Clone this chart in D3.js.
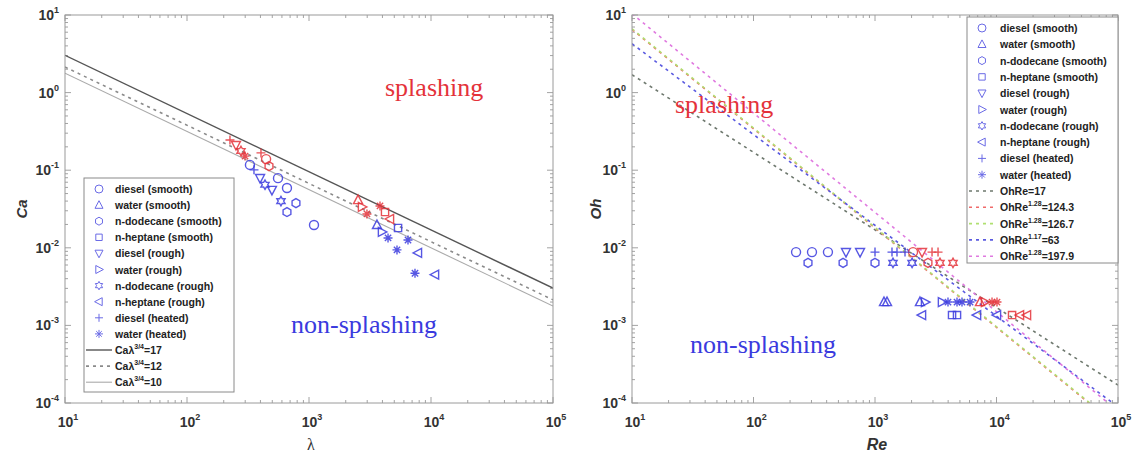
<!DOCTYPE html>
<html><head><meta charset="utf-8">
<script src="https://cdn.jsdelivr.net/npm/d3@7"></script>
<style>body{margin:0;background:#fff}svg{display:block}</style>
</head><body><svg id="c" width="1133" height="457"></svg>
<script>
// ---------------- DATA ----------------
const xTickExps = [1, 2, 3, 4, 5];
const yTickExps = [-4, -3, -2, -1, 0, 1];
const seriesNames = ["diesel (smooth)", "water (smooth)", "n-dodecane (smooth)", "n-heptane (smooth)",
  "diesel (rough)", "water (rough)", "n-dodecane (rough)", "n-heptane (rough)", "diesel (heated)", "water (heated)"];
const seriesMarkers = ["o", "^", "h", "s", "v", ">", "p", "<", "+", "*"];

// Left panel: [lambda, Ca, splash(1)/non-splash(0)]
const caDieselSmooth   = [[328, 0.117, 0], [557, 0.079, 0], [660, 0.059, 0], [1099, 0.0197, 0], [445, 0.139, 1]];
const caWaterSmooth    = [[3607, 0.0197, 0], [2523, 0.0413, 1]];
const caDodecaneSmooth = [[782, 0.0377, 0], [660, 0.0289, 0], [470, 0.113, 1]];
const caHeptaneSmooth  = [[5370, 0.018, 0], [4200, 0.0289, 1]];
const caDieselRough    = [[397, 0.079, 0], [497, 0.0556, 0], [252, 0.211, 1]];
const caWaterRough     = [[3963, 0.016, 0], [2718, 0.0336, 1]];
const caDodecaneRough  = [[589, 0.040, 0], [436, 0.065, 0], [277, 0.177, 1]];
const caHeptaneRough   = [[10790, 0.0045, 0], [7820, 0.0086, 0], [4613, 0.0235, 1]];
const caDieselHeated   = [[354, 0.101, 0], [225, 0.245, 1], [404, 0.167, 1]];
const caWaterHeated    = [[4444, 0.0134, 0], [6478, 0.0126, 0], [5263, 0.0094, 0], [7393, 0.0047, 0], [2986, 0.0273, 1], [3819, 0.0346, 1], [299, 0.152, 1]];

// Right panel: [Re, Oh, splash]
const ohDieselSmooth   = [[224, 0.0088, 0], [303, 0.0088, 0], [410, 0.0088, 0], [2056, 0.0088, 1]];
const ohWaterSmooth    = [[1186, 0.0020, 0], [1256, 0.0020, 0], [2344, 0.0020, 0], [7314, 0.0020, 1]];
const ohDodecaneSmooth = [[281, 0.0064, 0], [546, 0.0064, 0], [1000, 0.0064, 0], [2729, 0.0064, 1]];
const ohHeptaneSmooth  = [[4306, 0.00136, 0], [4732, 0.00136, 0], [13430, 0.00136, 1]];
const ohDieselRough    = [[577, 0.0088, 0], [753, 0.0088, 0], [2438, 0.0088, 1]];
const ohWaterRough     = [[2580, 0.0020, 0], [3556, 0.0020, 0], [8040, 0.0020, 1]];
const ohDodecaneRough  = [[1406, 0.0064, 0], [2019, 0.0064, 0], [3425, 0.0064, 1], [4385, 0.0064, 1]];
const ohHeptaneRough   = [[2438, 0.00136, 0], [6918, 0.00136, 0], [10095, 0.00136, 0], [15610, 0.00136, 1], [17830, 0.00136, 1]];
const ohDieselHeated   = [[1000, 0.0088, 0], [1380, 0.0088, 0], [1517, 0.0088, 0], [1766, 0.0088, 0], [2947, 0.0088, 1], [3302, 0.0088, 1]];
const ohWaterHeated    = [[3988, 0.0020, 0], [4732, 0.0020, 0], [5200, 0.0020, 0], [6056, 0.0020, 0], [9186, 0.0020, 1], [10095, 0.0020, 1]];

// Threshold lines: y = C * x^(-n)
const caLineLabels = ["17", "12", "10"];
const caLineC = [17, 12, 10];
const caLineN = [0.75, 0.75, 0.75];
const ohLineExpLabels = ["", "1.28", "1.28", "1.17", "1.28"];
const ohLineValLabels = ["17", "124.3", "126.7", "63", "197.9"];
const ohLineC = [17, 124.3, 126.7, 63, 197.9];
const ohLineN = [1, 1.28, 1.28, 1.17, 1.28];

// ---------------- STYLE / LAYOUT ----------------
const svg = d3.select("#c");
const BLUE = "#3a3ade", RED = "#e4323a";
const FONT = "'Liberation Sans', Arial, sans-serif";
const SERIF = "'Liberation Serif', 'Times New Roman', serif";
const caLineStyles = [{stroke: "#555", w: 1.4, dash: null}, {stroke: "#8a8a8a", w: 1.6, dash: "3,4"}, {stroke: "#aaa", w: 1.1, dash: null}];
const ohLineStyles = [{stroke: "#6e786e"}, {stroke: "#f06a6a"}, {stroke: "#b0e070"}, {stroke: "#5a5ae0"}, {stroke: "#e07ae0"}];

function symbolPath(t, s) {
  const r = s / 2;
  const poly = pts => "M" + pts.map(p => p[0].toFixed(2) + "," + p[1].toFixed(2)).join("L") + "Z";
  const reg = (n, rad, rot) => d3.range(n).map(i => { const a = rot + i * 2 * Math.PI / n; return [rad * Math.cos(a), rad * Math.sin(a)]; });
  switch (t) {
    case "o": return `M${r},0A${r},${r} 0 1,1 ${-r},0A${r},${r} 0 1,1 ${r},0Z`;
    case "^": return poly([[0, -r * 1.1], [r, r * 0.8], [-r, r * 0.8]]);
    case "v": return poly([[0, r * 1.1], [r, -r * 0.8], [-r, -r * 0.8]]);
    case ">": return poly([[r * 1.1, 0], [-r * 0.8, r], [-r * 0.8, -r]]);
    case "<": return poly([[-r * 1.1, 0], [r * 0.8, r], [r * 0.8, -r]]);
    case "s": return poly([[-r * 0.8, -r * 0.8], [r * 0.8, -r * 0.8], [r * 0.8, r * 0.8], [-r * 0.8, r * 0.8]]);
    case "h": return poly(reg(6, r, -Math.PI / 2));
    case "p": { const pts = []; for (let i = 0; i < 12; i++) { const a = -Math.PI / 2 + i * Math.PI / 6; const rr = i % 2 ? r * 0.6 : r * 1.05; pts.push([rr * Math.cos(a), rr * Math.sin(a)]); } return poly(pts); }
    case "+": return `M${-r},0H${r}M0,${-r}V${r}`;
    case "*": { const k = r * 0.7; return `M${-r},0H${r}M0,${-r}V${r}M${-k},${-k}L${k},${k}M${-k},${k}L${k},${-k}`; }
  }
}

function panel(cfg) {
  const x = d3.scaleLog().domain([1e1, 1e5]).range([cfg.x0, cfg.x1]);
  const y = d3.scaleLog().domain([1e-4, 1e1]).range([cfg.y1, cfg.y0]);
  const g = svg.append("g");
  const clipId = "clip" + cfg.id;
  svg.append("clipPath").attr("id", clipId).append("rect")
    .attr("x", cfg.x0).attr("y", cfg.y0).attr("width", cfg.x1 - cfg.x0).attr("height", cfg.y1 - cfg.y0);

  // ticks
  const tk = g.append("g").attr("stroke", "#8c8c8c").attr("stroke-width", 0.8);
  const xMinor = [], yMinor = [];
  for (let e = 1; e < 5; e++) for (let m = 2; m <= 9; m++) xMinor.push(m * Math.pow(10, e));
  for (let e = -4; e < 1; e++) for (let m = 2; m <= 9; m++) yMinor.push(m * Math.pow(10, e));
  xTickExps.forEach(e => { const px = x(Math.pow(10, e));
    tk.append("line").attr("x1", px).attr("x2", px).attr("y1", cfg.y1).attr("y2", cfg.y1 - 6);
    tk.append("line").attr("x1", px).attr("x2", px).attr("y1", cfg.y0).attr("y2", cfg.y0 + 6); });
  xMinor.forEach(v => { const px = x(v);
    tk.append("line").attr("x1", px).attr("x2", px).attr("y1", cfg.y1).attr("y2", cfg.y1 - 3);
    tk.append("line").attr("x1", px).attr("x2", px).attr("y1", cfg.y0).attr("y2", cfg.y0 + 3); });
  yTickExps.forEach(e => { const py = y(Math.pow(10, e));
    tk.append("line").attr("x1", cfg.x0).attr("x2", cfg.x0 + 6).attr("y1", py).attr("y2", py);
    tk.append("line").attr("x1", cfg.x1).attr("x2", cfg.x1 - 6).attr("y1", py).attr("y2", py); });
  yMinor.forEach(v => { const py = y(v);
    tk.append("line").attr("x1", cfg.x0).attr("x2", cfg.x0 + 3).attr("y1", py).attr("y2", py);
    tk.append("line").attr("x1", cfg.x1).attr("x2", cfg.x1 - 3).attr("y1", py).attr("y2", py); });

  // tick labels
  xTickExps.forEach(e => {
    const t = g.append("text").attr("x", x(Math.pow(10, e)) + 3).attr("y", cfg.y1 + 24)
      .attr("text-anchor", "middle").attr("font-family", FONT).attr("font-weight", "bold").attr("fill", "#333");
    t.append("tspan").attr("font-size", 14).text("10");
    t.append("tspan").attr("font-size", 9).attr("dy", -7).text(e);
  });
  yTickExps.forEach(e => {
    const t = g.append("text").attr("x", cfg.x0 - 6).attr("y", y(Math.pow(10, e)) + 5)
      .attr("text-anchor", "end").attr("font-family", FONT).attr("font-weight", "bold").attr("fill", "#333");
    t.append("tspan").attr("font-size", 14).text("10");
    t.append("tspan").attr("font-size", 9).attr("dy", -7).text(e);
  });

  // threshold lines
  const lg = g.append("g").attr("clip-path", `url(#${clipId})`);
  cfg.lineC.forEach((c, i) => {
    const st = cfg.lineStyles[i];
    const f = v => c * Math.pow(v, -cfg.lineN[i]);
    lg.append("line").attr("x1", x(1e1)).attr("y1", y(f(1e1))).attr("x2", x(1e5)).attr("y2", y(f(1e5)))
      .attr("stroke", st.stroke).attr("stroke-width", st.w || 1.6).attr("stroke-dasharray", st.dash === undefined ? "3,4" : st.dash)
      .attr("fill", "none");
  });

  // data
  const dg = g.append("g").attr("clip-path", `url(#${clipId})`);
  cfg.data.forEach((arr, i) => {
    arr.forEach(d => {
      dg.append("path").attr("d", symbolPath(seriesMarkers[i], 9))
        .attr("transform", `translate(${x(d[0])},${y(d[1])})`)
        .attr("fill", "none").attr("stroke", d[2] ? RED : BLUE).attr("stroke-width", 1.4).attr("stroke-opacity", 0.85);
    });
  });

  // frame
  g.append("rect").attr("x", cfg.x0).attr("y", cfg.y0).attr("width", cfg.x1 - cfg.x0).attr("height", cfg.y1 - cfg.y0)
    .attr("fill", "none").attr("stroke", "#9a9a9a").attr("stroke-width", 1);

  // region labels
  g.append("text").attr("x", cfg.splash[0]).attr("y", cfg.splash[1]).attr("font-family", SERIF).attr("font-size", 26)
    .attr("fill", RED).text("splashing");
  g.append("text").attr("x", cfg.nonsplash[0]).attr("y", cfg.nonsplash[1]).attr("font-family", SERIF).attr("font-size", 26)
    .attr("fill", BLUE).text("non-splashing");

  // axis labels
  g.append("text").attr("transform", `translate(${cfg.yLabelX},${(cfg.y0 + cfg.y1) / 2}) rotate(-90)`)
    .attr("text-anchor", "middle").attr("font-family", FONT).attr("font-weight", "bold").attr("font-style", "italic")
    .attr("font-size", 15).attr("fill", "#333").text(cfg.yLabel);
  g.append("text").attr("x", (cfg.x0 + cfg.x1) / 2 + 2).attr("y", cfg.y1 + 47)
    .attr("text-anchor", "middle").attr("font-family", cfg.xLabelFont).attr("font-weight", cfg.xLabelWeight).attr("font-style", cfg.xLabelStyle)
    .attr("font-size", 16).attr("fill", "#333").text(cfg.xLabel);

  // legend
  const L = cfg.legend;
  const lgd = g.append("g");
  lgd.append("rect").attr("x", L.x).attr("y", L.y).attr("width", L.w).attr("height", L.h)
    .attr("fill", "#fff").attr("stroke", "#8a8a8a").attr("stroke-width", 1);
  seriesNames.forEach((n, i) => {
    const yy = L.y + L.first + i * L.step;
    lgd.append("path").attr("d", symbolPath(seriesMarkers[i], 8)).attr("transform", `translate(${L.x + L.mx},${yy})`)
      .attr("fill", "none").attr("stroke", "#6b6be6").attr("stroke-width", 1);
    lgd.append("text").attr("x", L.x + L.tx).attr("y", yy + 4).attr("font-family", FONT).attr("font-weight", "bold")
      .attr("font-size", 10.5).attr("fill", "#222").text(n);
  });
  cfg.lineC.forEach((c, i) => {
    const yy = L.y + L.first + (seriesNames.length + i) * L.step;
    const st = cfg.lineStyles[i];
    lgd.append("line").attr("x1", L.x + 2).attr("x2", L.x + L.tx - 3).attr("y1", yy).attr("y2", yy)
      .attr("stroke", st.stroke).attr("stroke-width", st.w || 1.6).attr("stroke-dasharray", st.dash === undefined ? "3,4" : st.dash);
    const t = lgd.append("text").attr("x", L.x + L.tx).attr("y", yy + 4).attr("font-family", FONT).attr("font-weight", "bold")
      .attr("font-size", 10.5).attr("fill", "#222");
    cfg.lineLabel(t, i);
  });
}

panel({
  id: "L", x0: 65, x1: 553, y0: 15, y1: 403,
  data: [caDieselSmooth, caWaterSmooth, caDodecaneSmooth, caHeptaneSmooth, caDieselRough, caWaterRough, caDodecaneRough, caHeptaneRough, caDieselHeated, caWaterHeated],
  lineC: caLineC, lineN: caLineN, lineStyles: caLineStyles,
  splash: [385, 96], nonsplash: [291, 333],
  yLabel: "Ca", yLabelX: 27, xLabel: "λ", xLabelFont: SERIF, xLabelWeight: "normal", xLabelStyle: "normal",
  legend: {x: 84, y: 178, w: 150, h: 214, first: 11, step: 16.1, mx: 15, tx: 31},
  lineLabel: (t, i) => {
    t.append("tspan").text("Caλ");
    t.append("tspan").attr("font-size", 7).attr("dy", -5).text("3/4");
    t.append("tspan").attr("dy", 5).text("=" + caLineLabels[i]);
  }
});

panel({
  id: "R", x0: 632, x1: 1118, y0: 15, y1: 403,
  data: [ohDieselSmooth, ohWaterSmooth, ohDodecaneSmooth, ohHeptaneSmooth, ohDieselRough, ohWaterRough, ohDodecaneRough, ohHeptaneRough, ohDieselHeated, ohWaterHeated],
  lineC: ohLineC, lineN: ohLineN, lineStyles: ohLineStyles,
  splash: [675, 113], nonsplash: [690, 353],
  yLabel: "Oh", yLabelX: 601, xLabel: "Re", xLabelFont: FONT, xLabelWeight: "bold", xLabelStyle: "italic",
  legend: {x: 967, y: 17, w: 151, h: 246, first: 11, step: 16.3, mx: 15, tx: 33},
  lineLabel: (t, i) => {
    t.append("tspan").text("OhRe");
    if (ohLineExpLabels[i]) {
      t.append("tspan").attr("font-size", 7).attr("dy", -5).text(ohLineExpLabels[i]);
      t.append("tspan").attr("dy", 5).text("=" + ohLineValLabels[i]);
    } else t.append("tspan").text("=" + ohLineValLabels[i]);
  }
});
</script></body></html>
